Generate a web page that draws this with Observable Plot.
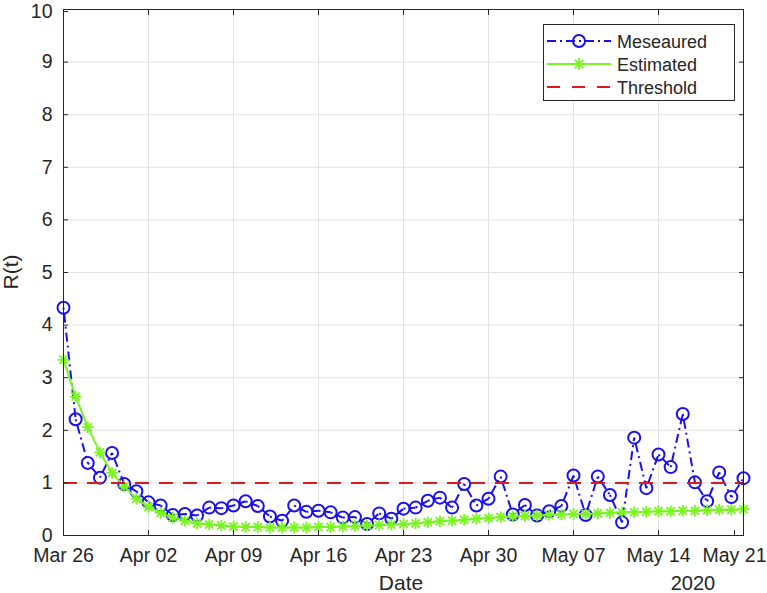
<!DOCTYPE html>
<html><head><meta charset="utf-8">
<script src="https://cdn.jsdelivr.net/npm/d3@7"></script>
<script src="https://cdn.jsdelivr.net/npm/@observablehq/plot@0.6"></script>
<style>
html,body{margin:0;padding:0;background:#fff;}
</style>
</head><body><div id="chart"></div>
<script>
// ---- data ----
const startDate = "2020-03-26";
const measured = [4.33, 2.21, 1.38, 1.10, 1.57, 0.98, 0.84, 0.63, 0.57, 0.39,
                  0.41, 0.38, 0.53, 0.52, 0.57, 0.65, 0.56, 0.36, 0.28, 0.57,
                  0.45, 0.47, 0.44, 0.34, 0.35, 0.22, 0.42, 0.32, 0.51, 0.53,
                  0.66, 0.72, 0.53, 0.98, 0.57, 0.70, 1.12, 0.40, 0.58, 0.38,
                  0.46, 0.56, 1.14, 0.39, 1.12, 0.77, 0.25, 1.86, 0.90, 1.54,
                  1.30, 2.31, 1.01, 0.65, 1.20, 0.73, 1.09];
const estimated = [3.34, 2.64, 2.06, 1.58, 1.19, 0.93, 0.70, 0.54, 0.43, 0.34,
                   0.28, 0.23, 0.21, 0.19, 0.17, 0.16, 0.16, 0.15, 0.15, 0.15,
                   0.15, 0.16, 0.16, 0.17, 0.18, 0.19, 0.20, 0.21, 0.22, 0.23,
                   0.25, 0.27, 0.28, 0.30, 0.32, 0.33, 0.35, 0.36, 0.37, 0.38,
                   0.39, 0.40, 0.41, 0.41, 0.42, 0.43, 0.44, 0.44, 0.45, 0.46,
                   0.46, 0.47, 0.47, 0.48, 0.49, 0.49, 0.50];
const threshold = [1];
const tickDates = ["2020-03-26", "2020-04-02", "2020-04-09", "2020-04-16", "2020-04-23",
                   "2020-04-30", "2020-05-07", "2020-05-14", "2020-05-21"];
const tickLabels = ["Mar 26", "Apr 02", "Apr 09", "Apr 16", "Apr 23",
                    "Apr 30", "May 07", "May 14", "May 21"];
const yTicks = [0, 1, 2, 3, 4, 5, 6, 7, 8, 9, 10];
const seriesNames = ["Meseaured", "Estimated", "Threshold"];
const xLabel = "Date", yLabel = "R(t)", yearLabel = "2020";

// ---- styling ----
const BLUE = "#1a10ee", GREEN = "#78f51e", RED = "#e0191c", AXIS = "#262626", GRID = "#e2e2e2";
const FONT = "'Liberation Sans', Arial, Helvetica, sans-serif";

const t0 = new Date(startDate + "T00:00:00Z");
const rows = measured.map((m, i) => ({date: d3.utcDay.offset(t0, i), measured: m, estimated: estimated[i]}));
const segs = rows.slice(0, -1).map((r, i) => ({x1: r.date, y1: r.measured, x2: rows[i + 1].date, y2: rows[i + 1].measured}));
const tickD = tickDates.map(s => new Date(s + "T00:00:00Z"));
const labelMap = new Map(tickD.map((d, i) => [+d, tickLabels[i]]));

const W = 767, H = 593, ML = 63, MR = 24, MT = 9, MB = 58;

const plot = Plot.plot({
  width: W, height: H,
  marginLeft: ML, marginRight: MR, marginTop: MT, marginBottom: MB,
  style: {fontFamily: FONT, fontSize: "19.5px", color: AXIS, background: "#fff", overflow: "visible"},
  x: {type: "utc", domain: [tickD[0], tickD[tickD.length - 1]]},
  y: {domain: [0, 10]},
  marks: [
    Plot.gridX(tickD, {stroke: GRID, strokeOpacity: 1}),
    Plot.gridY(yTicks, {stroke: GRID, strokeOpacity: 1}),
    Plot.link(segs, {x1: "x1", y1: "y1", x2: "x2", y2: "y2", stroke: BLUE, strokeWidth: 2, strokeDasharray: "2,4,9,4"}),
    Plot.dot(rows, {x: "date", y: "measured", r: 6, stroke: BLUE, strokeWidth: 2, fill: "none"}),
    Plot.line(rows, {x: "date", y: "estimated", stroke: GREEN, strokeWidth: 2}),
    Plot.dot(rows, {x: "date", y: "estimated", symbol: "plus", r: 3.8, stroke: GREEN, strokeWidth: 1.8}),
    Plot.dot(rows, {x: "date", y: "estimated", symbol: "times", r: 3.8, stroke: GREEN, strokeWidth: 1.8}),
    Plot.ruleY(threshold, {stroke: RED, strokeWidth: 2, strokeDasharray: "14,10"}),
    Plot.frame({stroke: AXIS, strokeWidth: 1}),
    Plot.axisX({ticks: tickD.slice(0, -1), tickFormat: d => labelMap.get(+d), tickSize: -5, tickPadding: 18, label: null, stroke: AXIS}),
    Plot.axisX({ticks: tickD.slice(-1), tickFormat: d => labelMap.get(+d), tickSize: -5, tickPadding: 18, label: null, stroke: AXIS, dx: -9}),
    Plot.axisX({anchor: "top", ticks: tickD, tickFormat: () => "", tickSize: -5, label: null, stroke: AXIS}),
    Plot.axisY({ticks: yTicks.slice(0, -1), tickFormat: d => String(d), tickSize: -5, tickPadding: 16, label: null, stroke: AXIS}),
    Plot.axisY({ticks: yTicks.slice(-1), tickFormat: d => String(d), tickSize: -5, tickPadding: 16, label: null, stroke: AXIS, dy: 2}),
    Plot.axisY({anchor: "right", ticks: yTicks, tickFormat: () => "", tickSize: -5, label: null, stroke: AXIS})
  ]
});
document.getElementById("chart").appendChild(plot);

// ---- axis titles and legend ----
const svg = d3.select(plot);
const x0 = ML, x1 = W - MR, yBottom = H - MB;
svg.append("text").attr("x", (x0 + x1) / 2 - 2).attr("y", 590)
  .attr("text-anchor", "middle").attr("font-size", 21).attr("font-family", FONT).attr("fill", AXIS).text(xLabel);
svg.append("text").attr("x", 693).attr("y", 590)
  .attr("text-anchor", "middle").attr("font-size", 20).attr("font-family", FONT).attr("fill", AXIS).text(yearLabel);
svg.append("text").attr("transform", `translate(18,${(MT + yBottom) / 2}) rotate(-90)`)
  .attr("text-anchor", "middle").attr("font-size", 21).attr("font-family", FONT).attr("fill", AXIS).text(yLabel);

const lg = svg.append("g").attr("font-family", FONT).attr("font-size", 18).attr("fill", AXIS).attr("text-anchor", "start");
lg.append("rect").attr("x", 543.5).attr("y", 24.5).attr("width", 191).attr("height", 76)
  .attr("fill", "#fff").attr("stroke", AXIS).attr("stroke-width", 1);
const rowsY = [41, 64, 87];
const lx1 = 547, lx2 = 611, lxm = 579;
// Meseaured
lg.append("line").attr("x1", lx1).attr("x2", lx2).attr("y1", rowsY[0]).attr("y2", rowsY[0])
  .attr("stroke", BLUE).attr("stroke-width", 2).attr("stroke-dasharray", "9,4,2,4");
lg.append("circle").attr("cx", lxm).attr("cy", rowsY[0]).attr("r", 6).attr("fill", "none").attr("stroke", BLUE).attr("stroke-width", 2);
// Estimated
lg.append("line").attr("x1", lx1).attr("x2", lx2).attr("y1", rowsY[1]).attr("y2", rowsY[1])
  .attr("stroke", GREEN).attr("stroke-width", 2);
const s = 6, sd = 4.3;
lg.append("path").attr("d", `M${lxm - s},${rowsY[1]}H${lxm + s}M${lxm},${rowsY[1] - s}V${rowsY[1] + s}M${lxm - sd},${rowsY[1] - sd}L${lxm + sd},${rowsY[1] + sd}M${lxm - sd},${rowsY[1] + sd}L${lxm + sd},${rowsY[1] - sd}`)
  .attr("stroke", GREEN).attr("stroke-width", 1.8).attr("fill", "none");
// Threshold
lg.append("line").attr("x1", lx1).attr("x2", lx2).attr("y1", rowsY[2]).attr("y2", rowsY[2])
  .attr("stroke", RED).attr("stroke-width", 2).attr("stroke-dasharray", "13,12");
seriesNames.forEach((n, i) => {
  lg.append("text").attr("x", 617).attr("y", rowsY[i] + 6.5).attr("text-anchor", "start").text(n);
});
</script>
</body></html>
